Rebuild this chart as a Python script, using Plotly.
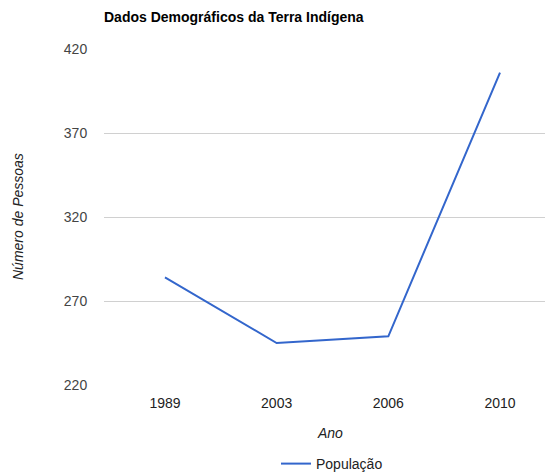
import plotly.graph_objects as go

anos = ["1989", "2003", "2006", "2010"]
populacao = [284, 245, 249, 406]
y_ticks = [220, 270, 320, 370, 420]

W, H = 545, 472
L, R, T, B = 104, 0, 49, 87
FS = 14

fig = go.Figure()
fig.add_trace(go.Scatter(
    x=anos, y=populacao, mode="lines", name="População",
    line=dict(color="#3366CC", width=2),
))

font = "Liberation Sans, Arial, sans-serif"
fig.update_layout(
    width=W, height=H,
    margin=dict(l=L, r=R, t=T, b=B, autoexpand=False),
    paper_bgcolor="white", plot_bgcolor="white",
    font=dict(family=font, size=FS, color="#444444"),
    title=dict(
        text="<b>Dados Demográficos da Terra Indígena</b>",
        x=L / W, xref="container", xanchor="left",
        y=1 - 17 / H, yref="container", yanchor="middle",
        font=dict(family=font, size=FS, color="#000000"),
    ),
    xaxis=dict(
        type="category", range=[-0.546, 3.403], automargin=False,
        showgrid=False, zeroline=False, showline=False,
        ticks="outside", ticklen=5, tickcolor="rgba(0,0,0,0)",
        tickfont=dict(size=FS, color="#222222"),
    ),
    yaxis=dict(
        range=[220, 420], tickvals=y_ticks, automargin=False,
        showgrid=True, gridcolor="#d0d0d0", gridwidth=1,
        zeroline=False, showline=False,
        ticks="outside", ticklen=13, tickcolor="rgba(0,0,0,0)",
        tickfont=dict(size=FS, color="#444444"),
    ),
    showlegend=True,
    legend=dict(
        orientation="h", xref="container", yref="container",
        x=276 / W, xanchor="left",
        y=(H - 464) / H, yanchor="middle",
        font=dict(size=FS, color="#222222"),
        bgcolor="rgba(0,0,0,0)",
    ),
    annotations=[
        dict(text="<i>Ano</i>", xref="paper", yref="paper",
             x=(330 - L) / (W - L), y=(H - B - 433) / (H - T - B),
             xanchor="center", yanchor="middle", showarrow=False,
             font=dict(size=FS, color="#222222")),
        dict(text="<i>Número de Pessoas</i>", xref="paper", yref="paper",
             x=(18 - L) / (W - L), y=0.5, textangle=-90,
             xanchor="center", yanchor="middle", showarrow=False,
             font=dict(size=FS, color="#222222")),
    ],
)

fig.write_html(
    "out.html",
    config={"displayModeBar": False},
    post_script="document.body.style.margin='0';document.body.style.overflow='hidden';",
)
